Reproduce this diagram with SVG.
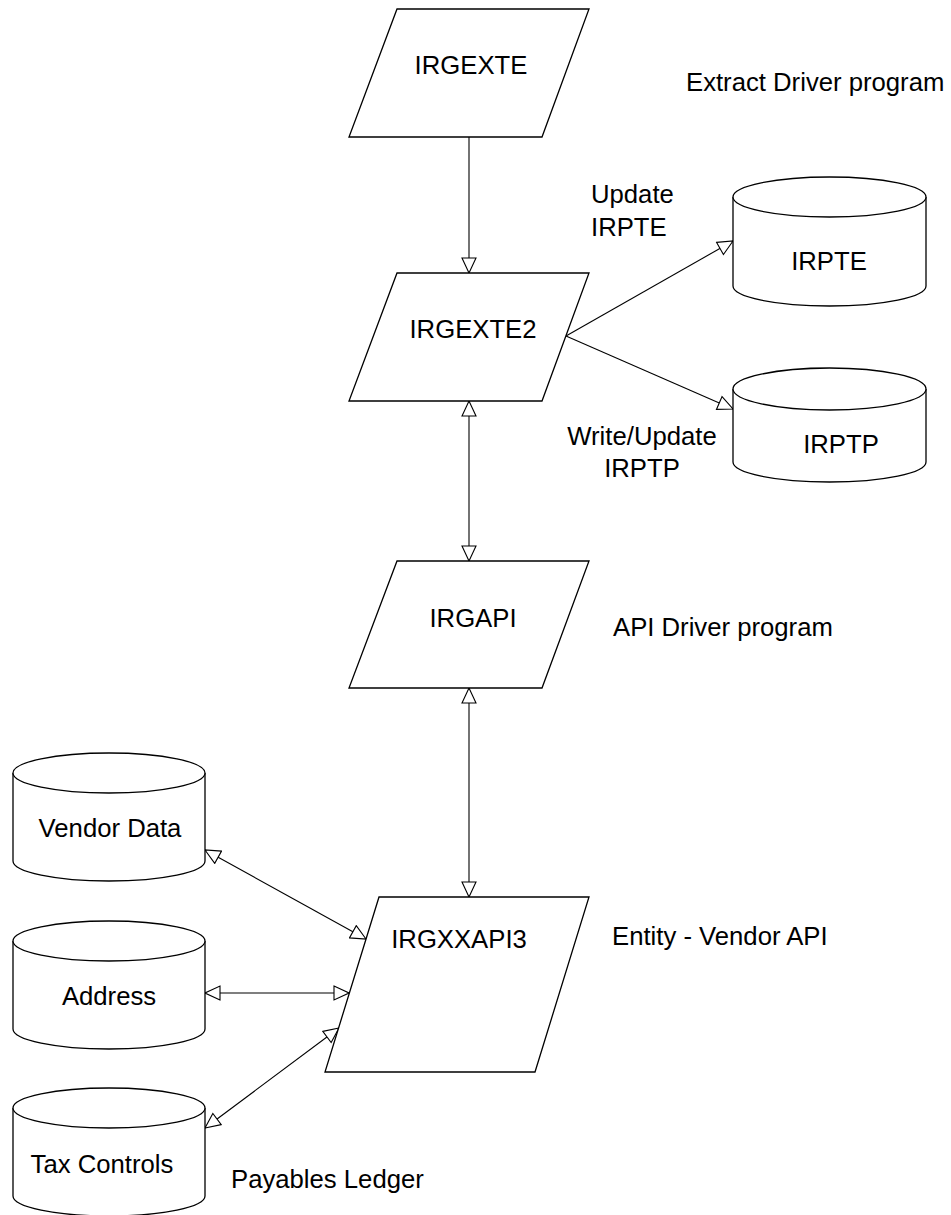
<svg xmlns="http://www.w3.org/2000/svg" width="951" height="1215" viewBox="0 0 951 1215">
<defs>
<style>
.shape{fill:#fff;stroke:#000;stroke-width:1.3}
.conn{fill:none;stroke:#000;stroke-width:1.1}
text{font-family:"Liberation Sans",Arial,sans-serif;font-size:25.7px;fill:#000}
.c{text-anchor:middle}
</style>
<marker id="ah" markerUnits="userSpaceOnUse" markerWidth="17" markerHeight="16" viewBox="-1 -1 17 16" refX="15" refY="7" orient="auto-start-reverse">
<path d="M0,0 L15,7 L0,14 Z" fill="#fff" stroke="#000" stroke-width="1.1"/>
</marker>
</defs>
<rect width="951" height="1215" fill="#fff"/>
<g id="connectors">
<line class="conn" x1="469" y1="137" x2="469" y2="273" marker-end="url(#ah)"/>
<line class="conn" x1="566" y1="336" x2="733" y2="241" marker-end="url(#ah)"/>
<line class="conn" x1="566" y1="336" x2="733" y2="409" marker-end="url(#ah)"/>
<line class="conn" x1="469" y1="401" x2="469" y2="561" marker-start="url(#ah)" marker-end="url(#ah)"/>
<line class="conn" x1="469" y1="688" x2="469" y2="897" marker-start="url(#ah)" marker-end="url(#ah)"/>
<line class="conn" x1="205" y1="850" x2="366" y2="939" marker-start="url(#ah)" marker-end="url(#ah)"/>
<line class="conn" x1="205" y1="993" x2="349" y2="993" marker-start="url(#ah)" marker-end="url(#ah)"/>
<line class="conn" x1="205" y1="1128" x2="339" y2="1028" marker-start="url(#ah)" marker-end="url(#ah)"/>
</g>
<g id="IRGEXTE">
<polygon class="shape" points="397,9 589,9 542,137 349,137"/>
<text class="c" x="471" y="74">IRGEXTE</text>
</g>
<g id="IRGEXTE2">
<polygon class="shape" points="397,273 589,273 542,401 349,401"/>
<text class="c" x="473" y="338">IRGEXTE2</text>
</g>
<g id="IRGAPI">
<polygon class="shape" points="397,561 589,561 542,688 349,688"/>
<text class="c" x="473" y="627">IRGAPI</text>
</g>
<g id="IRGXXAPI3">
<polygon class="shape" points="379,897 589,897 535,1072 325,1072"/>
<text class="c" x="459" y="948">IRGXXAPI3</text>
</g>
<g id="IRPTE">
<path class="shape" d="M733,197 A96.5,20 0 0 1 926,197 L926,286 A96.5,20 0 0 1 733,286 Z"/>
<path class="shape" d="M733,197 A96.5,20 0 0 0 926,197" fill="none"/>
<text class="c" x="829" y="270">IRPTE</text>
</g>
<g id="IRPTP">
<path class="shape" d="M733,389 A96.5,21 0 0 1 926,389 L926,462 A96.5,20 0 0 1 733,462 Z"/>
<path class="shape" d="M733,389 A96.5,21 0 0 0 926,389" fill="none"/>
<text class="c" x="841" y="453">IRPTP</text>
</g>
<g id="VendorData">
<path class="shape" d="M13,773 A96,20 0 0 1 205,773 L205,861 A96,20 0 0 1 13,861 Z"/>
<path class="shape" d="M13,773 A96,20 0 0 0 205,773" fill="none"/>
<text class="c" x="110" y="837">Vendor Data</text>
</g>
<g id="Address">
<path class="shape" d="M13,941 A96,20 0 0 1 205,941 L205,1029 A96,20 0 0 1 13,1029 Z"/>
<path class="shape" d="M13,941 A96,20 0 0 0 205,941" fill="none"/>
<text class="c" x="109" y="1005">Address</text>
</g>
<g id="TaxControls">
<path class="shape" d="M13,1108 A96,20 0 0 1 205,1108 L205,1196 A96,20 0 0 1 13,1196 Z"/>
<path class="shape" d="M13,1108 A96,20 0 0 0 205,1108" fill="none"/>
<text class="c" x="102" y="1173">Tax Controls</text>
</g>
<g id="labels">
<text x="686" y="91">Extract Driver program</text>
<text x="591" y="203">Update</text>
<text x="591" y="236">IRPTE</text>
<text class="c" x="642" y="445">Write/Update</text>
<text class="c" x="642" y="477">IRPTP</text>
<text x="613" y="636">API Driver program</text>
<text x="612" y="945">Entity - Vendor API</text>
<text x="231" y="1188">Payables Ledger</text>
</g>
</svg>
